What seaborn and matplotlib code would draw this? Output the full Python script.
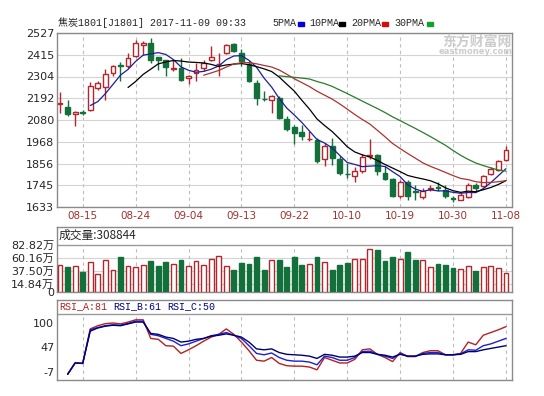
import numpy as np
import pandas as pd
import seaborn as sns
import matplotlib.pyplot as plt
from matplotlib.patches import Rectangle

# 日K数据
open_ = [2163, 2147, 2111, 2121, 2133, 2244, 2248, 2321, 2362, 2356,
         2407, 2464, 2476, 2402, 2387, 2342, 2347, 2296, 2321, 2347,
         2387, 2366, 2424, 2470, 2424, 2368, 2270, 2190, 2184, 2193,
         2087, 2042, 2018, 1980, 1979, 1881, 1945, 1879, 1803, 1790,
         1816, 1894, 1898, 1808, 1777, 1688, 1761, 1715, 1683, 1725,
         1736, 1722, 1678, 1671, 1683, 1748, 1739, 1802, 1825, 1876]
high = [2224, 2184, 2128, 2133, 2275, 2279, 2344, 2364, 2376, 2424,
        2493, 2484, 2501, 2404, 2390, 2390, 2399, 2313, 2373, 2390,
        2458, 2424, 2470, 2476, 2445, 2381, 2287, 2227, 2210, 2202,
        2099, 2056, 2052, 2022, 1987, 1962, 1987, 1893, 1859, 1837,
        1905, 1982, 1905, 1842, 1782, 1773, 1773, 1748, 1731, 1744,
        1761, 1748, 1688, 1705, 1756, 1756, 1799, 1837, 1876, 1945]
low = [2116, 2099, 2051, 2104, 2128, 2232, 2184, 2304, 2279, 2347,
       2402, 2416, 2373, 2339, 2304, 2330, 2282, 2265, 2282, 2330,
       2381, 2304, 2419, 2429, 2356, 2275, 2159, 2179, 2116, 2087,
       2025, 1957, 1979, 1974, 1859, 1842, 1850, 1799, 1782, 1761,
       1808, 1881, 1799, 1773, 1683, 1679, 1671, 1671, 1676, 1717,
       1713, 1679, 1659, 1669, 1679, 1710, 1734, 1799, 1820, 1867]
close = [2168, 2111, 2121, 2118, 2253, 2270, 2316, 2356, 2358, 2399,
         2476, 2476, 2390, 2390, 2351, 2346, 2287, 2304, 2339, 2373,
         2402, 2370, 2467, 2433, 2381, 2282, 2193, 2187, 2202, 2090,
         2035, 2013, 1996, 1984, 1871, 1945, 1885, 1808, 1800, 1820,
         1888, 1899, 1820, 1778, 1688, 1761, 1688, 1712, 1717, 1729,
         1733, 1688, 1675, 1693, 1748, 1731, 1790, 1830, 1871, 1927]
# 成交量 (万)
volume = [46.7, 43.8, 45.5, 35.0, 52.5, 30.9, 55.5, 37.9, 61.3, 45.5,
          43.8, 46.7, 54.3, 45.5, 52.5, 48.5, 55.5, 45.5, 53.7, 46.7,
          57.2, 62.5, 45.5, 37.9, 50.8, 49.0, 61.3, 39.1, 55.5, 55.5,
          43.8, 61.3, 46.7, 48.5, 61.3, 52.5, 38.5, 46.7, 50.8, 57.2,
          57.2, 74.7, 73.0, 53.7, 61.3, 57.2, 70.0, 55.5, 55.5, 43.8,
          48.5, 46.7, 42.0, 39.7, 45.0, 36.8, 43.8, 45.5, 42.0, 33.0]
rsi_a = [np.nan, -13, 12, 11, 87, 94, 98.5, 100, 98, 102,
         107, 107, 66, 64, 50, 49, 33, 41, 50, 60,
         69, 75, 87, 75, 58, 39, 18, 16, 24, 11,
         6, 5, 5, 3, -3, 24, 18, 12, 12, 20,
         41, 43, 31, 24, 15, 35, 26, 26, 35, 39,
         39, 30, 30, 33, 58, 52, 73, 79, 85, 92]
rsi_b = [np.nan, -13, 12, 11, 85, 90, 94, 96, 95, 99,
         104, 104, 75, 72, 66, 60, 50, 54, 60, 66,
         72, 75, 79, 73, 66, 50, 33, 30, 34, 24,
         18, 16, 16, 14, 8, 27, 24, 18, 18, 24,
         37, 38, 31, 27, 22, 33, 27, 27, 33, 35,
         35, 30, 30, 32, 41, 40, 50, 54, 60, 66]
rsi_c = [np.nan, -13, 12, 11, 82, 89, 93, 95, 94, 98,
         102, 102, 77, 75, 69, 66, 58, 60, 64, 66,
         71, 73, 76, 73, 69, 58, 43, 41, 43, 35,
         31, 30, 29, 27, 22, 31, 29, 25, 25, 27,
         35, 35, 31, 29, 25, 31, 27, 27, 31, 32,
         32, 30, 30, 31, 37, 37, 41, 44, 47, 50]
date_pos = [3, 10, 17, 24, 31, 38, 45, 52, 59]
date_labels = ['08-15', '08-24', '09-04', '09-13', '09-22',
               '10-10', '10-19', '10-30', '11-08']
vol_ticks = [0, 14.84, 37.50, 60.16, 82.82]
vol_labels = ['0', '14.84万', '37.50万', '60.16万', '82.82万']
rsi_ticks = [100, 47, -7]

df = pd.DataFrame({'open': open_, 'high': high, 'low': low, 'close': close,
                   'vol': volume, 'rsi_a': rsi_a, 'rsi_b': rsi_b, 'rsi_c': rsi_c})
df['idx'] = np.arange(len(df))
for n in [5, 10, 20, 30]:
    df[f'ma{n}'] = df['close'].rolling(n).mean()

RED = '#b3262c'
GREEN = '#13703a'
up = (df['close'] >= df['open']).values
edge = np.where(up, RED, GREEN)
face = np.where(up, 'white', GREEN)

sns.set_style('white')
plt.rcParams['font.family'] = ['DejaVu Sans', 'Noto Sans CJK SC']
MONO = ['Liberation Mono', 'Noto Sans CJK SC']

W, H = 544, 396
fig = plt.figure(figsize=(W / 100, H / 100), dpi=100)


def box(top, bottom, left=57, right=512):
    return [left / W, 1 - bottom / H, (right - left) / W, (bottom - top) / H]


ax = fig.add_axes(box(33, 207))
ax_v = fig.add_axes(box(227, 292))
ax_r = fig.add_axes(box(300, 379.6))

for a in (ax, ax_v, ax_r):
    a.set_xlim(-0.4, 59.8)
    a.set_axisbelow(True)
    for s in a.spines.values():
        s.set_color('#8a8a8a')
        s.set_linewidth(1)
    a.tick_params(length=0, labelsize=8, pad=2)
    a.set_xlabel('')
    a.set_ylabel('')

# K线
ax.vlines(df['idx'], df['low'], df['high'], colors=edge, lw=1, zorder=2)
body = (df['close'] - df['open']).abs().clip(lower=1)
ax.bar(df['idx'], body, bottom=df[['open', 'close']].min(axis=1), width=0.64,
       color=face, edgecolor=edge, linewidth=1, zorder=3)
ma_colors = {'ma5': '#1c1ca0', 'ma10': '#000000', 'ma20': '#b03030', 'ma30': '#2b7a2b'}
for k, c in ma_colors.items():
    sns.lineplot(data=df, x='idx', y=k, ax=ax, color=c, lw=0.9, zorder=4)
price_ticks = np.linspace(1633, 2527, 9)
ax.set_ylim(1633, 2527)
ax.set_yticks(price_ticks)
ax.set_yticklabels([str(int(round(v))) for v in price_ticks])
ax.set_xticks(date_pos)
ax.set_xticklabels(date_labels, color='#a0322d', fontsize=7.5)
ax.tick_params(axis='x', pad=3)
ax.yaxis.grid(True, color='#d4d4d4', lw=0.8)
ax.xaxis.grid(True, color='#bdbdbd', lw=0.8, ls=(0, (3, 3)))
ax.set_xlabel('')
ax.set_ylabel('')

# 成交量
ax_v.bar(df['idx'], df['vol'], width=0.64, color=face, edgecolor=edge, linewidth=1, zorder=3)
ax_v.set_ylim(0, 113.8)
ax_v.set_yticks(vol_ticks)
ax_v.set_yticklabels(vol_labels)
ax_v.set_xticks([])
for t in vol_ticks[1:-1]:
    ax_v.axhline(t, color='#d4d4d4', lw=0.8, zorder=1)
ax_v.axhline(82.82, color='#9a9a9a', lw=1, zorder=1)
ax_v.vlines(date_pos, 0, 82.82, colors='#bdbdbd', lw=0.8, linestyles=(0, (3, 3)), zorder=1)
ax_v.text(2 / 455, 0.87, '成交量:308844', transform=ax_v.transAxes, fontsize=8.5,
          va='center', ha='left', family=['Noto Sans CJK SC'])

# RSI
for k, c in [('rsi_a', '#b22222'), ('rsi_b', '#1f1fd0'), ('rsi_c', '#00006e')]:
    sns.lineplot(data=df, x='idx', y=k, ax=ax_r, color=c, lw=1, zorder=3)
ax_r.set_ylim(-24.6, 150.6)
ax_r.set_yticks(rsi_ticks)
ax_r.set_yticklabels([str(v) for v in rsi_ticks])
ax_r.set_xticks([])
ax_r.axhline(119.8, color='#9a9a9a', lw=1, zorder=1)
ax_r.vlines(date_pos, -24.6, 119.8, colors='#bdbdbd', lw=0.8, linestyles=(0, (3, 3)), zorder=1)
ax_r.set_xlabel('')
ax_r.set_ylabel('')
for x0, txt, c in [(59, 'RSI_A:81', '#b22222'), (113, 'RSI_B:61', '#00008b'),
                   (167, 'RSI_C:50', '#00008b')]:
    fig.text(x0 / W, 1 - 306.5 / H, txt, color=c, fontsize=7.2, family=MONO, va='center')

# 标题
fig.text(58 / W, 1 - 22.5 / H, '焦炭1801[J1801] 2017-11-09 09:33', fontsize=7.2,
         family=MONO, va='center')
for x0, txt, rx, c in [(272.6, '5PMA', 298, '#0000e0'), (309, '10PMA', 338.5, '#000000'),
                       (351, '20PMA', 382, '#d01010'), (394, '30PMA', 427, '#10a030')]:
    fig.text(x0 / W, 1 - 22.5 / H, txt, fontsize=7.2, family=MONO, va='center')
    fig.patches.append(Rectangle((rx / W, 1 - 25.5 / H), 6 / W, 4 / H,
                                 transform=fig.transFigure, color=c, figure=fig))

# 水印
fig.text(477 / W, 1 - 42 / H, '东方财富网', color='#cccccc', fontsize=10,
         fontweight='bold', ha='center', va='center', family=['Noto Sans CJK SC'])
fig.text(476 / W, 1 - 52 / H, 'eastmoney.com', color='#cccccc', fontsize=6,
         fontweight='bold', ha='center', va='center')

fig.savefig('out.png', dpi=100, facecolor='white')
